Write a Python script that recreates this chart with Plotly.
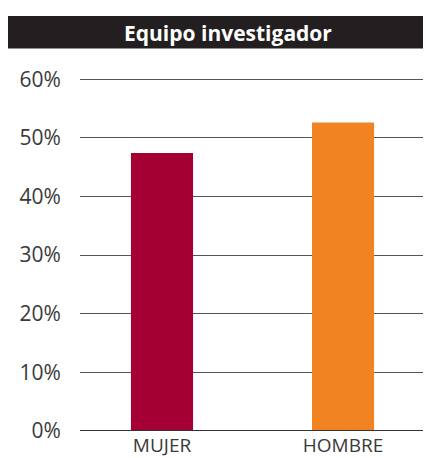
import plotly.graph_objects as go

categories = ["MUJER", "HOMBRE"]
values = [47.4, 52.6]
colors = ["#A50034", "#F28322"]
title_text = "Equipo investigador"
y_ticks = [0, 10, 20, 30, 40, 50, 60]
y_ticklabels = [f"{v}%" for v in y_ticks]

# page has an 8px body margin; figure coordinates are page coordinates minus 8
OFF = 8
W, H = 431 - OFF, 458 - OFF
ml, mr, mt, mb = 80 - OFF, 0, 78 - OFF, H - (431 - OFF)
PW, PH = W - ml - mr, H - mt - mb

fig = go.Figure(go.Bar(x=[0, 1], y=values, marker=dict(color=colors, line=dict(width=0)),
                       width=0.343, hoverinfo="skip"))

fig.update_layout(
    width=W, height=H,
    margin=dict(l=ml, r=mr, t=mt, b=mb, autoexpand=False),
    paper_bgcolor="white", plot_bgcolor="white",
    showlegend=False,
    font=dict(family="Open Sans, Noto Sans, sans-serif", color="#3a3a3a", size=16),
    xaxis=dict(range=[-0.453, 1.486], tickvals=[0, 1], ticktext=categories,
               showgrid=False, showline=False, ticks="", ticklabelstandoff=1,
               tickfont=dict(size=19, color="#3a3a3a"),
               zeroline=False, automargin=False),
    yaxis=dict(range=[0, 60.2], tickvals=y_ticks, ticktext=y_ticklabels, showgrid=True,
               gridcolor="#555555", gridwidth=1, zeroline=False, showline=False,
               ticks="outside", ticklen=14, tickcolor="rgba(0,0,0,0)", automargin=False,
               tickfont=dict(size=21, color="#3a3a3a")),
    shapes=[
        dict(type="rect", xref="paper", yref="paper",
             x0=(8 - 80) / PW, x1=1.0,
             y0=1 + (78 - 48.5) / PH, y1=1 + (78 - 16) / PH,
             fillcolor="#231F20", line=dict(width=0), layer="above"),
        dict(type="line", xref="paper", yref="y", x0=0, x1=1, y0=0, y1=0,
             line=dict(color="#333333", width=2)),
    ],
    annotations=[
        dict(text="<b>" + title_text + "</b>", xref="paper", yref="paper",
             x=(228 - 80) / PW, y=1 + (78 - 33) / PH,
             showarrow=False, font=dict(color="white", size=21), xanchor="center", yanchor="middle"),
    ],
)
fig.write_html("out.html")
